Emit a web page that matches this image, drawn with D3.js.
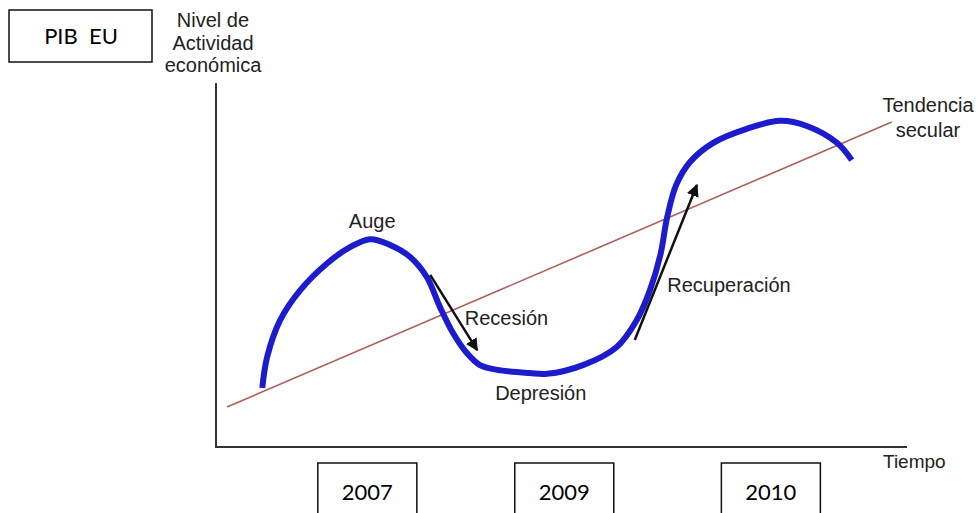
<!DOCTYPE html>
<html><head><meta charset="utf-8">
<script src="https://cdn.jsdelivr.net/npm/d3@7"></script>
<style>
html,body{margin:0;padding:0;background:#fff;}
svg{display:block;}
</style></head>
<body>
<svg id="chart" width="978" height="513"></svg>
<script>
// ---- data (abstract units: time 0-100, activity level 0-100) ----
const cycleTime  = [6.7,7.4,9.3,12.2,16.1,19.4,22.3,25.2,28.1,30.5,32.4,34.3,36.3,38.2,40.7,45.4,47.9,53.1,58.0,60.9,62.8,64.3,65.3,66.6,68.6,71.9,76.8,81.6,85.5,89.9,92.0];
const cycleLevel = [16.2,24.7,34.9,43.1,50.5,54.9,57.1,55.5,52.2,46.7,38.5,31.3,25.8,22.5,21.2,20.3,20.1,22.5,27.5,34.9,43.1,52.7,63.2,72.0,78.3,83.5,87.4,89.6,88.2,83.5,78.8];
const trendTime  = [1.6, 97.8];
const trendLevel = [11.0, 89.3];
const arrowNames = ["Recesión","Recuperación"];
const arrowFrom  = [[31.0,47.3],[60.6,29.4]];
const arrowTo    = [[37.8,26.6],[69.6,72.0]];
const phaseLabels = ["Auge","Recesión","Depresión","Recuperación"];
const phaseTime   = [22.6,36.0,40.4,65.3];
const phaseLevel  = [60.2,33.5,12.9,42.6];
const phaseAnchor = ["middle","start","start","start"];
const yearLabels = ["2007","2009","2010"];
const yearTime   = [21.9,50.4,80.3];
const titleLabel = "PIB  EU";
const yAxisTitle = ["Nivel de","Actividad","económica"];
const xAxisTitle = "Tiempo";
const trendTitle = ["Tendencia","secular"];

const svg = d3.select("#chart");
const x = d3.scaleLinear().domain([0,100]).range([216,907]);
const y = d3.scaleLinear().domain([0,100]).range([447,83]);

const labelFont = "'Liberation Sans', Arial, sans-serif";
const boxFont = "Lato, 'Open Sans', sans-serif";

// axes (L-shape, no ticks)
const ax = svg.append("g").attr("stroke","#333").attr("stroke-width",2).attr("fill","none");
ax.append("path").attr("d", d3.line()([[x(0),y(100)],[x(0),y(0)],[x(100),y(0)]]));

// trend line
svg.append("line")
  .attr("x1",x(trendTime[0])).attr("y1",y(trendLevel[0]))
  .attr("x2",x(trendTime[1])).attr("y2",y(trendLevel[1]))
  .attr("stroke","#b0605a").attr("stroke-width",1.6);

// cycle curve
const pts = cycleTime.map((t,i)=>[t,cycleLevel[i]]);
svg.append("path")
  .attr("d", d3.line().x(d=>x(d[0])).y(d=>y(d[1])).curve(d3.curveCatmullRom.alpha(0.5))(pts))
  .attr("fill","none").attr("stroke","#1c1ccc").attr("stroke-width",6)
  .attr("stroke-linecap","butt").attr("stroke-linejoin","round");

// arrows
svg.append("defs").append("marker")
  .attr("id","ah").attr("viewBox","0 0 10 10").attr("refX",9).attr("refY",5)
  .attr("markerWidth",5).attr("markerHeight",5).attr("orient","auto")
  .attr("markerUnits","strokeWidth")
  .append("path").attr("d","M0,0 L10,5 L0,10 z").attr("fill","#111");
arrowNames.forEach((n,i)=>{
  svg.append("line")
    .attr("x1",x(arrowFrom[i][0])).attr("y1",y(arrowFrom[i][1]))
    .attr("x2",x(arrowTo[i][0])).attr("y2",y(arrowTo[i][1]))
    .attr("stroke","#111").attr("stroke-width",2.5).attr("marker-end","url(#ah)");
});

// phase labels
phaseLabels.forEach((t,i)=>{
  svg.append("text").attr("x",x(phaseTime[i])).attr("y",y(phaseLevel[i]))
    .attr("text-anchor",phaseAnchor[i]).attr("font-family",labelFont)
    .attr("font-size",20).attr("fill","#222").text(t);
});

// axis titles
yAxisTitle.forEach((t,i)=>{
  svg.append("text").attr("x",x(0)-3).attr("y",27+i*22.5)
    .attr("text-anchor","middle").attr("font-family",labelFont)
    .attr("font-size",20).attr("fill","#222").text(t);
});
svg.append("text").attr("x",x(100)-24).attr("y",468)
  .attr("font-family",labelFont).attr("font-size",19).attr("fill","#222").text(xAxisTitle);
trendTitle.forEach((t,i)=>{
  svg.append("text").attr("x",928).attr("y",112+i*25)
    .attr("text-anchor","middle").attr("font-family",labelFont)
    .attr("font-size",20).attr("fill","#222").text(t);
});

// title box
svg.append("rect").attr("x",9).attr("y",10).attr("width",143).attr("height",52)
  .attr("fill","#fff").attr("stroke","#111").attr("stroke-width",1.5);
svg.append("text").attr("x",81).attr("y",44).attr("text-anchor","middle")
  .attr("font-family",boxFont).attr("font-size",22).attr("fill","#000")
  .attr("xml:space","preserve").style("white-space","pre").text(titleLabel);

// year boxes
yearLabels.forEach((t,i)=>{
  const cx = x(yearTime[i]);
  svg.append("path")
    .attr("d", d3.line()([[cx-49.5,520],[cx-49.5,463],[cx+49.5,463],[cx+49.5,520]]))
    .attr("fill","#fff").attr("stroke","#111").attr("stroke-width",1.5);
  svg.append("text").attr("x",cx).attr("y",500).attr("text-anchor","middle")
    .attr("font-family",boxFont).attr("font-size",22).attr("fill","#000").text(t);
});
</script>
</body></html>
